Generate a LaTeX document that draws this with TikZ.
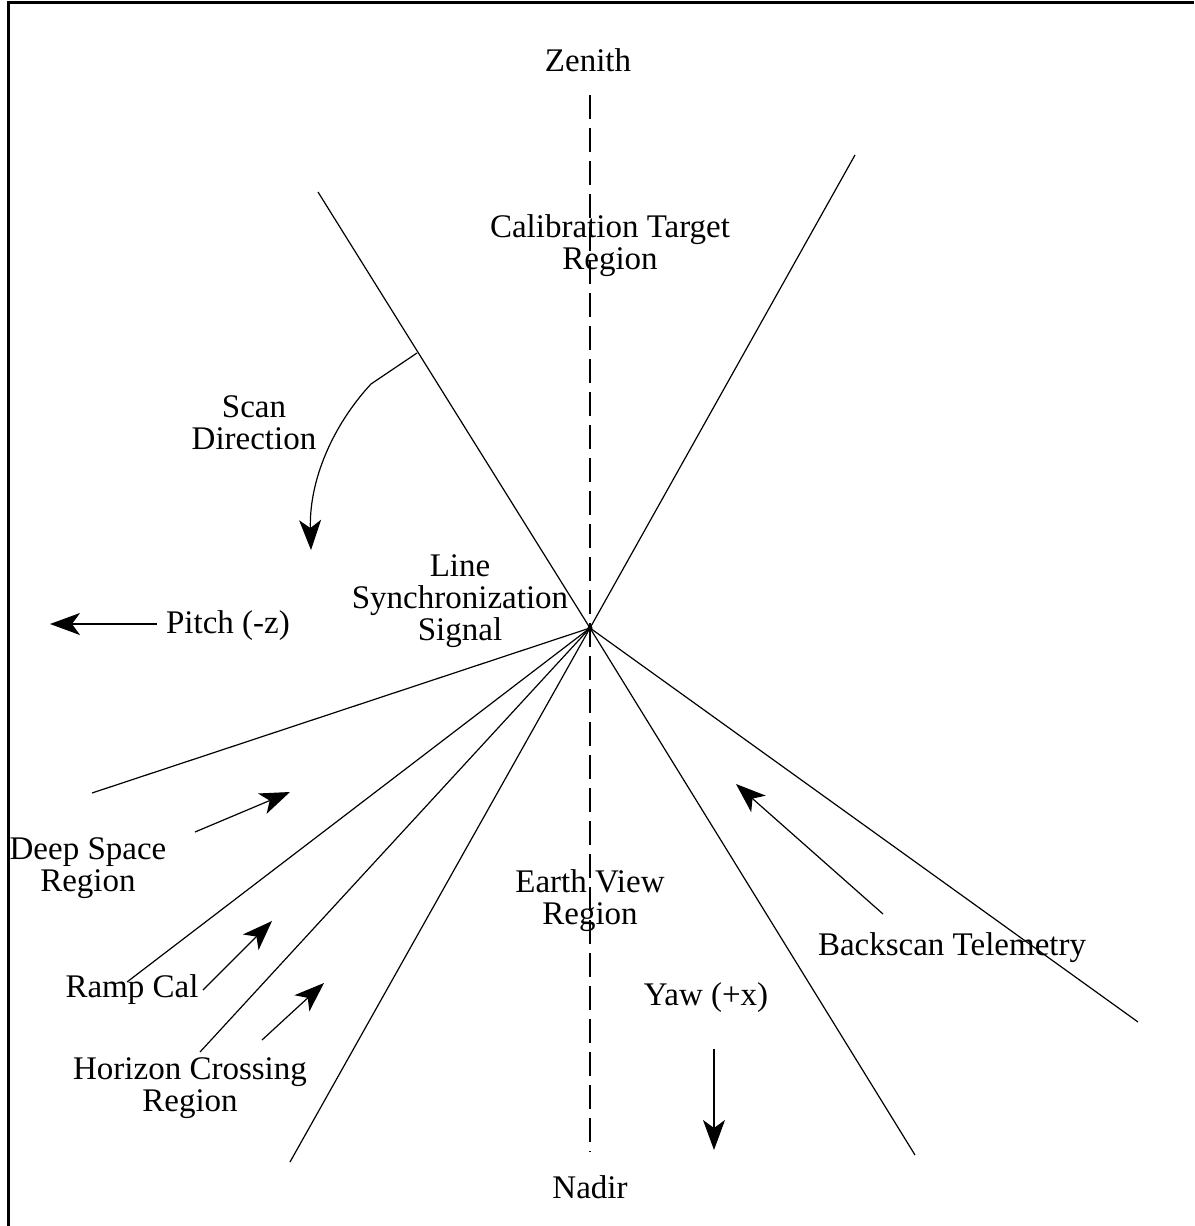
\documentclass[tikz,border=0pt]{standalone}
\usepackage{fontspec}
\setmainfont{Liberation Serif}
\usetikzlibrary{arrows.meta}
\begin{document}
\begin{tikzpicture}[x=1pt,y=-1pt,
  lbl/.style={font=\fontsize{33}{32}\selectfont, align=center, inner sep=0pt},
  ray/.style={line width=1.2pt},
  ptr/.style={line width=1.2pt, -{Stealth[length=30pt,width=22pt,inset=8pt]}},
  axisline/.style={line width=2pt, dash pattern=on 24pt off 9pt}]
\useasboundingbox (0,0) rectangle (1194,1226);
\draw[line width=3pt] (8,1226) -- (8,2) -- (1194,2);
% center
\coordinate (C) at (590,628);
% ray end points
\coordinate (ul) at (318,192);
\coordinate (lr) at (915,1155);
\coordinate (ur) at (855,155);
\coordinate (ll4) at (290,1162);
\coordinate (ll1) at (92,793);
\coordinate (ll2) at (127,982);
\coordinate (ll3) at (200,1052);
\coordinate (rr) at (1138,1022);
\coordinate (ztop) at (590,95);
\coordinate (zbot) at (590,1152);
% labels
\node[lbl] (zen) at (588,60) {Zenith};
\node[lbl] (nad) at (590,1187) {Nadir};
\node[lbl] (cal) at (610,246) {Calibration Target\\Region};
\node[lbl] (scan) at (254,423) {Scan\\Direction};
\node[lbl] (lss) at (460,601) {Line\\Synchronization\\Signal};
\node[lbl] (pitch) at (228,626) {Pitch (-z)};
\node[lbl] (deep) at (88,868) {Deep Space\\Region};
\node[lbl] (earth) at (590,901) {Earth View\\Region};
\node[lbl] (back) at (952,948) {Backscan Telemetry};
\node[lbl] (ramp) at (132,990) {Ramp Cal};
\node[lbl] (yaw) at (706,998) {Yaw (+x)};
\node[lbl] (hor) at (190,1088) {Horizon Crossing\\Region};
% axis
\draw[axisline] (ztop) -- (zbot);
% rays
\draw[ray] (ul) -- (C) -- (lr);
\draw[ray] (ur) -- (C) -- (ll4);
\draw[ray] (C) -- (ll1);
\draw[ray] (C) -- (ll2);
\draw[ray] (C) -- (ll3);
\draw[ray] (C) -- (rr);
\fill (C) circle (2.5pt);
% scan direction
\coordinate (s0) at (417,353);
\coordinate (s1) at (371,384);
\coordinate (s2) at (311,550);
\draw[ptr] (s0) -- (s1) .. controls (333,425) and (309,480) .. (s2);
% pointer arrows
\coordinate (p0) at (157,624);
\coordinate (p1) at (50,624);
\draw[ptr] (p0) -- (p1);
\coordinate (d0) at (195,832);
\coordinate (d1) at (290,792);
\draw[ptr] (d0) -- (d1);
\coordinate (r0) at (203,990);
\coordinate (r1) at (272,921);
\draw[ptr] (r0) -- (r1);
\coordinate (h0) at (262,1040);
\coordinate (h1) at (324,983);
\draw[ptr] (h0) -- (h1);
\coordinate (b0) at (883,914);
\coordinate (b1) at (736,784);
\draw[ptr] (b0) -- (b1);
\coordinate (y0) at (714,1049);
\coordinate (y1) at (714,1150);
\draw[ptr] (y0) -- (y1);
\end{tikzpicture}
\end{document}
